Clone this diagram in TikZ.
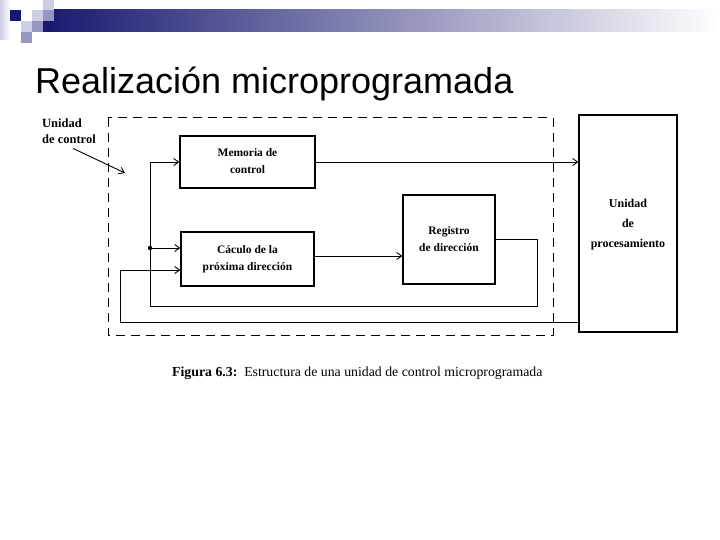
\documentclass[tikz,border=0pt]{standalone}
\usepackage{fontspec}
\setmainfont{Liberation Serif}
\newfontfamily\titlefont{Liberation Sans}
\usepackage{tikz}
\usetikzlibrary{arrows.meta}
\definecolor{navy}{RGB}{24,24,112}
\definecolor{lavclaro}{RGB}{205,205,228}
\definecolor{lavmedio}{RGB}{150,150,196}
\definecolor{grismedio}{RGB}{182,182,208}
\tikzset{
bloque/.style={draw, line width=1.2pt, inner sep=0pt, font=\fontsize{11.5}{17}\selectfont\bfseries},
linea/.style={line width=0.9pt},
flecha/.style={linea, ->, >={Straight Barb[length=5pt,width=7pt]}},
}

\begin{document}
\begin{tikzpicture}[x=1pt, y=-1pt]
\useasboundingbox (0,0) rectangle (720,540);
\shade[left color=navy, middle color=grismedio, right color=white] (43,10) rectangle (720,32);
\shade[left color=lavclaro, right color=white] (0,0) rectangle (10,40);
\fill[navy] (10,10) rectangle (21,21);
\fill[lavclaro] (32,10) rectangle (43,21);
\fill[lavclaro] (43,0) rectangle (54,10);
\fill[lavmedio] (43,10) rectangle (54,21);
\fill[lavclaro] (21,21) rectangle (32,32);
\fill[lavmedio] (32,21) rectangle (43,32);
\fill[lavmedio] (21,32) rectangle (32,43);
\node[anchor=base west, inner sep=0pt, font=\titlefont\fontsize{36}{36}\selectfont] (titulo) at (35,94) {Realización microprogramada};

\draw[line width=1pt, dash pattern=on 9pt off 6pt] (108,118) rectangle (553,335);

\node[anchor=north west, inner sep=0pt, font=\fontsize{12.5}{16}\selectfont\bfseries] (ucontrol) at (42,116) {\begin{tabular}{@{}l@{}}Unidad\\de control\end{tabular}};
\node[bloque, minimum width=135pt, minimum height=52pt] (memoria) at (247.5,162) {\begin{tabular}{c}Memoria de\\control\end{tabular}};
\node[bloque, minimum width=133pt, minimum height=54pt] (calculo) at (247.5,259) {\begin{tabular}{c}Cáculo de la\\próxima dirección\end{tabular}};
\node[bloque, minimum width=92pt, minimum height=89pt] (registro) at (449,239.5) {\begin{tabular}{c}Registro\\de dirección\end{tabular}};
\node[bloque, font=\fontsize{12}{20}\selectfont\bfseries, minimum width=98pt, minimum height=217pt] (proc) at (628,223.5) {\begin{tabular}{c}Unidad\\de\\procesamiento\end{tabular}};

\coordinate (entrada) at (125,173);
\coordinate (nodo) at (150,248);
\coordinate (r1) at (537,306);
\coordinate (b1) at (120,322);

\draw[flecha] ([xshift=4pt]ucontrol.south) -- (entrada);
\draw[flecha] (memoria.east) -- (memoria.east -| proc.west);
\draw[flecha] ([yshift=3pt]calculo.east) -- ([yshift=3pt]calculo.east -| registro.west);
\fill (nodo) circle (2.2pt);
\draw[flecha] (nodo) |- (memoria.west);
\draw[flecha] (nodo) -- (nodo -| calculo.west);
\draw[linea] (registro.east) -| (r1) -| (nodo);
\draw[flecha] (b1 -| proc.west) -- (b1) |- ([yshift=-11pt]calculo.west);

\node[anchor=base west, inner sep=0pt, font=\fontsize{13.8}{16}\selectfont] (pie) at (172,376) {\textbf{Figura 6.3:}\ \ Estructura de una unidad de control microprogramada};
\end{tikzpicture}
\end{document}
